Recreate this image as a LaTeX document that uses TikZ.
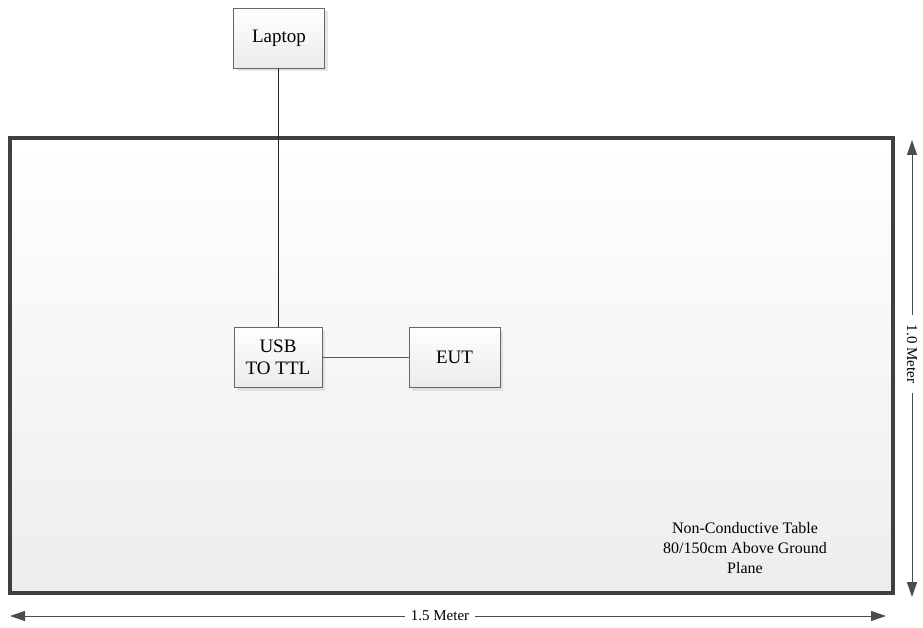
\documentclass[tikz,border=0pt]{standalone}
\usepackage{fontspec}
\setmainfont{Liberation Serif}
\usetikzlibrary{arrows.meta, shadows, positioning}
\tikzstyle{tablebox} = [
    rectangle,
    minimum width=883pt,
    minimum height=455pt,
    draw=black!75,
    line width=3.2pt,
    top color=white,
    bottom color=black!7,
    drop shadow={shadow xshift=2pt, shadow yshift=-2pt, fill=black!15}
]
\tikzstyle{unit} = [
    rectangle,
    minimum width=91pt,
    minimum height=60pt,
    draw=black!60,
    line width=0.8pt,
    top color=white,
    bottom color=black!8,
    align=center,
    font=\fontsize{19}{22}\selectfont,
    drop shadow={shadow xshift=3pt, shadow yshift=-3pt, fill=black!20}
]
\tikzstyle{cable} = [line width=1pt, draw=black!85]
\tikzstyle{dim} = [line width=1pt, draw=black!70, {Triangle[width=10pt,length=15pt]}-{Triangle[width=10pt,length=15pt]}]
\tikzstyle{dimlabel} = [fill=white, inner xsep=10pt, font=\fontsize{15}{16}\selectfont]

\begin{document}
\begin{tikzpicture}[x=1pt, y=-1pt]
\useasboundingbox (0,0) rectangle (923,628);

\node (table) [tablebox] at (451.5,365.5) {};

\node (laptop) [unit] at (279,38) {Laptop};
\node (usb) [unit, minimum width=88pt] at (278,357.5) {USB\\TO TTL};
\node (eut) [unit] at (454.5,357.5) {EUT};

\node (note) [align=center, font=\fontsize{16}{20}\selectfont] at (745,548)
{Non-Conductive Table\\80/150cm Above Ground\\Plane};

\draw [cable] (laptop.south -| usb.north) -- (usb.north);
\draw [cable, draw=black!65, line width=1.3pt] (usb) -- (eut);

% dimensions
\coordinate (wl) at (10,616);
\coordinate (wr) at (886,616);
\coordinate (ht) at (912,140);
\coordinate (hb) at (912,597);
\draw [dim] (wl) -- (wr);
\node (width) [dimlabel, inner xsep=6pt] at (440,616) {1.5 Meter};
\draw [dim] (ht) -- (hb);
\node (height) [dimlabel, rotate=-90, inner ysep=1pt] at (912,354) {1.0 Meter};

\end{tikzpicture}
\end{document}
